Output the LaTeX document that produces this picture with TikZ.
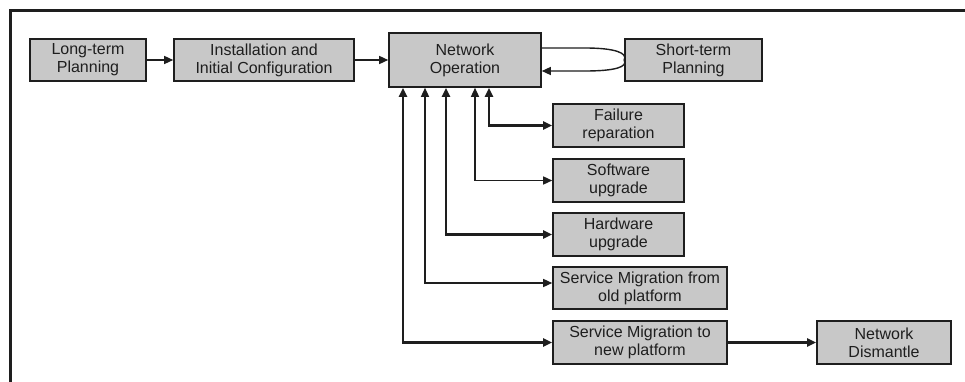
\documentclass[tikz,border=0pt]{standalone}
\usepackage{fontspec}
\setmainfont{Liberation Sans}
\usetikzlibrary{arrows.meta}
\definecolor{boxgray}{RGB}{200,200,200}
\definecolor{ink}{RGB}{30,30,30}
\tikzset{
  box/.style={draw=ink, line width=1.6pt, fill=boxgray, align=center,
    inner sep=0pt, font=\fontsize{16pt}{18pt}\selectfont, text=ink},
  thinarr/.style={draw=ink, line width=1.4pt, -{Triangle[length=9pt,width=8pt]}},
  thickarr/.style={draw=ink, line width=2.4pt, -{Triangle[length=9pt,width=8pt]}},
  thinbi/.style={draw=ink, line width=1.4pt, {Triangle[length=9pt,width=8pt]}-{Triangle[length=9pt,width=8pt]}},
  thickbi/.style={draw=ink, line width=2.4pt, {Triangle[length=9pt,width=8pt]}-{Triangle[length=9pt,width=8pt]}},
}
\begin{document}
\begin{tikzpicture}[x=1pt,y=-1pt]
\useasboundingbox (0,0) rectangle (965,382);
\fill[white] (0,0) rectangle (965,382);
\draw[ink, line width=3pt] (10.5,382) -- (10.5,10.5) -- (965,10.5);

\node[box, minimum width=116pt, minimum height=42pt] (lt) at (88,60) {Long-term\\Planning};
\node[box, minimum width=180pt, minimum height=42pt] (inst) at (264,60) {Installation and\\Initial Configuration};
\node[box, minimum width=152pt, minimum height=54pt] (no) at (465,60) {Network\\Operation};
\node[box, minimum width=137pt, minimum height=42pt] (st) at (693.5,60) {Short-term\\Planning};
\node[box, minimum width=131pt, minimum height=43pt] (fail) at (618.5,125.5) {Failure\\reparation};
\node[box, minimum width=131pt, minimum height=43pt] (sw) at (618.5,180.5) {Software\\upgrade};
\node[box, minimum width=131pt, minimum height=43pt] (hw) at (618.5,234.5) {Hardware\\upgrade};
\node[box, minimum width=174pt, minimum height=42pt] (old) at (640,288) {Service Migration from\\old platform};
\node[box, minimum width=174pt, minimum height=43pt] (new) at (640,342.5) {Service Migration to\\new platform};
\node[box, minimum width=134pt, minimum height=43pt] (dis) at (884,342.5) {Network\\Dismantle};

\draw[thinarr] (lt) -- (inst);
\draw[thinarr] (inst.east) -- (no.west |- inst.east);

\draw[thinarr] ([yshift=12pt]no.east) -- (585,48) .. controls (615,48) and (628,53) .. (st.west)
  .. controls (628,67) and (615,71) .. (585,71) -- ([yshift=-11pt]no.east);

\draw[thickbi] ([xshift=24pt]no.south) |- (fail.west);
\draw[thinbi] ([xshift=10pt]no.south) |- (sw.west);
\draw[thickbi] ([xshift=-19pt]no.south) |- (hw.west);
\draw[thinbi] ([xshift=-40pt]no.south) |- ([yshift=5pt]old.west);
\draw[thickbi] ([xshift=-62pt]no.south) |- (new.west);
\draw[thickarr] (new) -- (dis);
\end{tikzpicture}
\end{document}
